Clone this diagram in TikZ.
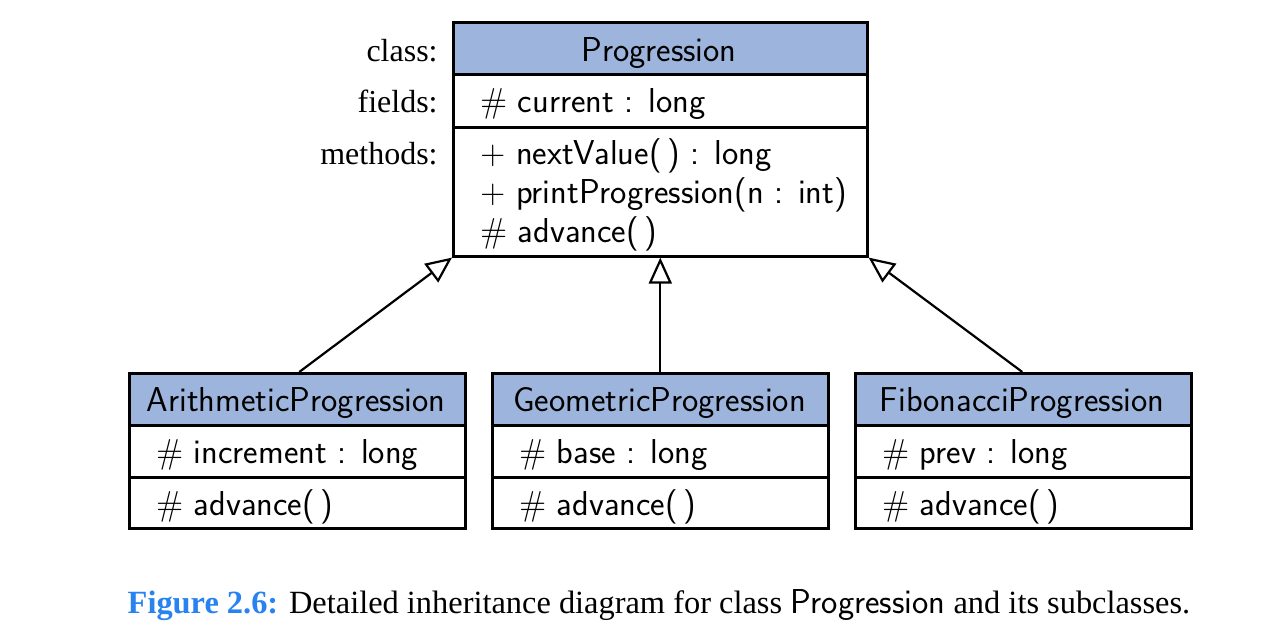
\documentclass[tikz,border=0pt]{standalone}
\usepackage[no-math]{fontspec}
\setmainfont{Liberation Serif}
\usetikzlibrary{arrows.meta}
\definecolor{hdr}{RGB}{157,181,220}
\definecolor{capblue}{RGB}{40,130,240}
\begin{document}
\begin{tikzpicture}[x=0.5pt,y=-0.5pt,
  comp/.style={draw, line width=1.3pt, rectangle, inner sep=0pt, anchor=north west},
  hdrbox/.style={comp, fill=hdr},
  bigw/.style={minimum width=207pt},
  smallw/.style={minimum width=168pt},
  utxt/.style={font=\fontsize{17.28}{19.5}\selectfont\sffamily, inner sep=0pt},
  ltxt/.style={font=\fontsize{16}{19.5}\selectfont, inner sep=0pt, anchor=base east},
  inh/.style={line width=1.1pt, -{Triangle[open, length=13pt, width=11.5pt, line width=1.1pt]}}
]
\useasboundingbox (0,0) rectangle (1282,630);

% Progression
\node[hdrbox, bigw, minimum height=26pt] (ph) at (452,21) {};
\node[comp, bigw, minimum height=26.5pt] (pf) at (452,73) {};
\node[comp, bigw, minimum height=64.5pt] (pm) at (452,126) {};
\node[utxt, anchor=base] (pht) at (659,62) {Progression};
\node[utxt, anchor=base west] (pft) at (480,113) {$\#$ current : long};
\node[utxt, anchor=base west] (pm1) at (480,165) {$+$ nextValue(\,) : long};
\node[utxt, anchor=base west] (pm2) at (480,204) {$+$ printProgression(n : int)};
\node[utxt, anchor=base west] (pm3) at (480,243) {$\#$ advance(\,)};

\node[ltxt] (lc) at (438,62) {class:};
\node[ltxt] (lf) at (438,113) {fields:};
\node[ltxt] (lm) at (438,165) {methods:};

% Arithmetic
\node[hdrbox, smallw, minimum height=26pt] (ah) at (128,372) {};
\node[comp, smallw, minimum height=26pt] (af) at (128,424) {};
\node[comp, smallw, minimum height=25.5pt] (am) at (128,476) {};
\node[utxt, anchor=base] (aht) at (296,412) {ArithmeticProgression};
\node[utxt, anchor=base west] (aft) at (156,464) {$\#$ increment : long};
\node[utxt, anchor=base west] (amt) at (156,516) {$\#$ advance(\,)};

% Geometric
\node[hdrbox, smallw, minimum height=26pt] (gh) at (491,372) {};
\node[comp, smallw, minimum height=26pt] (gf) at (491,424) {};
\node[comp, smallw, minimum height=25.5pt] (gm) at (491,476) {};
\node[utxt, anchor=base] (ght) at (659.5,412) {GeometricProgression};
\node[utxt, anchor=base west] (gft) at (519,464) {$\#$ base : long};
\node[utxt, anchor=base west] (gmt) at (519,516) {$\#$ advance(\,)};

% Fibonacci
\node[hdrbox, smallw, minimum height=26pt] (fh) at (854,372) {};
\node[comp, smallw, minimum height=26pt] (ff) at (854,424) {};
\node[comp, smallw, minimum height=25.5pt] (fm) at (854,476) {};
\node[utxt, anchor=base] (fht) at (1022,412) {FibonacciProgression};
\node[utxt, anchor=base west] (fft) at (882,464) {$\#$ prev : long};
\node[utxt, anchor=base west] (fmt) at (882,516) {$\#$ advance(\,)};

% inheritance
\draw[inh] ([xshift=1pt]ah.north) -- (pm.south west);
\draw[inh] (gh.north) -- (pm.south);
\draw[inh] ([xshift=-0.5pt]fh.north) -- (pm.south east);

% caption
\node[font=\fontsize{16.2}{19.5}\selectfont, inner sep=0pt, anchor=base] (cap) at (659,614)
  {{\bfseries\color{capblue}Figure 2.6:} Detailed inheritance diagram for class {\fontsize{17.28}{19.5}\selectfont\sffamily Progression} and its subclasses.};
\end{tikzpicture}
\end{document}
